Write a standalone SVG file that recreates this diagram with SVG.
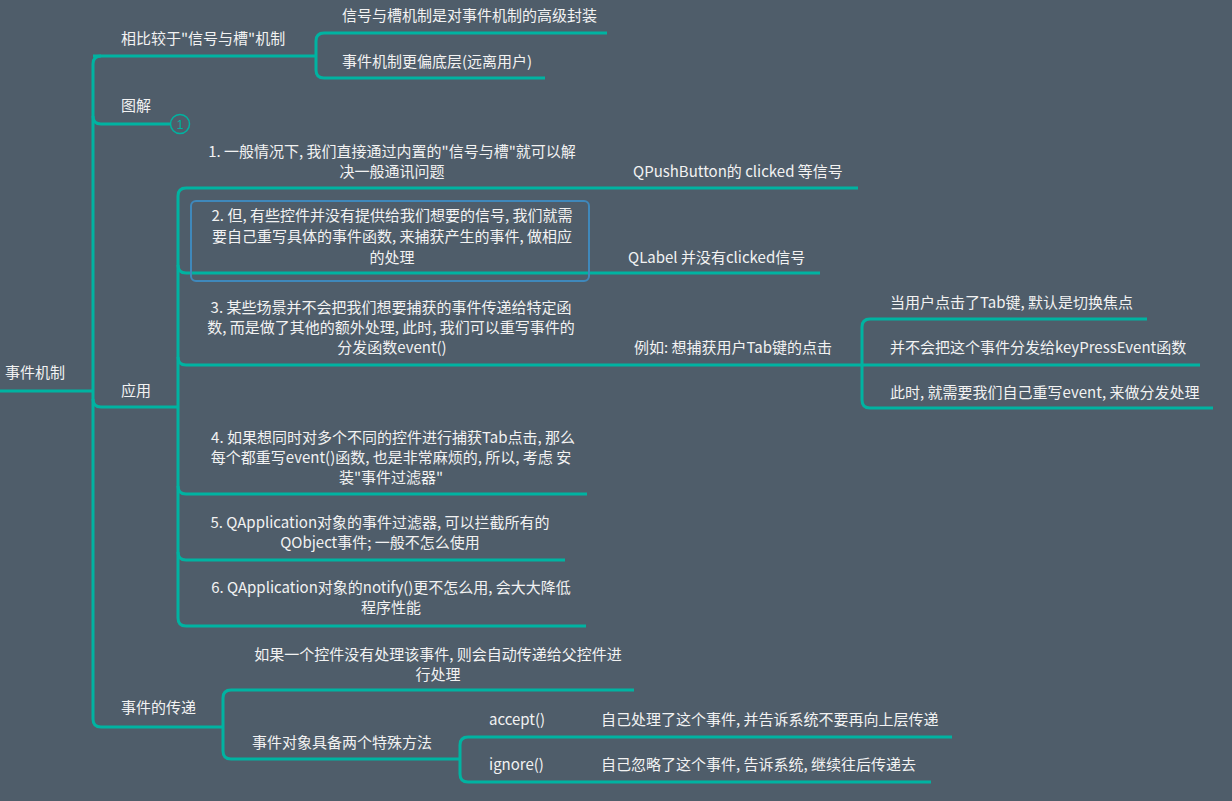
<svg xmlns="http://www.w3.org/2000/svg" width="1232" height="801" viewBox="0 0 1232 801">
<style>
.t{font-family:"Microsoft YaHei","Noto Sans CJK SC","Noto Sans",sans-serif;font-size:15px;fill:#f2f2f2}
.m{text-anchor:middle}
.c{fill:none;stroke:#00b3a1;stroke-width:3;stroke-linecap:butt}
</style>
<rect width="1232" height="801" fill="#4f5d6a"/>
<g id="connectors">
<path class="c" d="M0 391H93"/>
<path class="c" d="M101 56Q93 56 93 64V719Q93 727 101 727H223"/>
<path class="c" d="M93 56H316"/>
<path class="c" d="M93 116Q93 124 101 124H171"/>
<path class="c" d="M93 399Q93 407 101 407H178"/>
<path class="c" d="M316 41Q316 33 324 33H607"/>
<path class="c" d="M316 41V70Q316 78 324 78H545"/>
<path class="c" d="M178 196Q178 188 186 188H858"/>
<path class="c" d="M178 196V618Q178 626 186 626H586"/>
<path class="c" d="M178 265Q178 273 186 273H820"/>
<path class="c" d="M178 357Q178 365 186 365H862"/>
<path class="c" d="M178 486Q178 494 186 494H587"/>
<path class="c" d="M178 552Q178 560 186 560H565"/>
<path class="c" d="M870 319Q862 319 862 327V400Q862 408 870 408H1213"/>
<path class="c" d="M870 319H1147"/>
<path class="c" d="M862 365H1200"/>
<path class="c" d="M231 690Q223 690 223 698V751Q223 759 231 759H460"/>
<path class="c" d="M231 690H634"/>
<path class="c" d="M468 737Q460 737 460 745V774Q460 782 468 782H931"/>
<path class="c" d="M468 737H952"/>
</g>
<g id="root"><text class="t" x="5" y="378">事件机制</text></g>
<g id="n-compare"><text class="t" x="121" y="44">相比较于"信号与槽"机制</text></g>
<g id="n-compare-1"><text class="t" x="342" y="21">信号与槽机制是对事件机制的高级封装</text></g>
<g id="n-compare-2"><text class="t" x="342" y="67">事件机制更偏底层(远离用户)</text></g>
<g id="n-diagram"><text class="t" x="121" y="111">图解</text>
<circle cx="180" cy="124" r="9.5" fill="#4f5d6a" stroke="#00b3a1" stroke-width="1.5"/>
<text x="180" y="128.5" text-anchor="middle" style="font-family:'Liberation Sans',sans-serif;font-size:12px;fill:#00b3a1">1</text></g>
<g id="n-apply"><text class="t" x="121" y="396">应用</text></g>
<g id="n-a1"><text class="t m" x="392" y="157">1. 一般情况下, 我们直接通过内置的"信号与槽"就可以解</text><text class="t m" x="392" y="177">决一般通讯问题</text></g>
<g id="n-a1c"><text class="t" x="633" y="177">QPushButton的 clicked 等信号</text></g>
<g id="n-a2"><rect x="191" y="201" width="398" height="80" rx="5" fill="none" stroke="#3f88bb" stroke-width="2"/>
<text class="t m" x="392" y="221">2. 但, 有些控件并没有提供给我们想要的信号, 我们就需</text><text class="t m" x="392" y="242">要自己重写具体的事件函数, 来捕获产生的事件, 做相应</text><text class="t m" x="392" y="263">的处理</text></g>
<g id="n-a2c"><text class="t" x="628" y="263">QLabel 并没有clicked信号</text></g>
<g id="n-a3"><text class="t m" x="391" y="313">3. 某些场景并不会把我们想要捕获的事件传递给特定函</text><text class="t m" x="391" y="333">数, 而是做了其他的额外处理, 此时, 我们可以重写事件的</text><text class="t m" x="392" y="353">分发函数event()</text></g>
<g id="n-a3c"><text class="t" x="634" y="353">例如: 想捕获用户Tab键的点击</text></g>
<g id="n-a3c1"><text class="t" x="890" y="308">当用户点击了Tab键, 默认是切换焦点</text></g>
<g id="n-a3c2"><text class="t" x="890" y="353">并不会把这个事件分发给keyPressEvent函数</text></g>
<g id="n-a3c3"><text class="t" x="890" y="398">此时, 就需要我们自己重写event, 来做分发处理</text></g>
<g id="n-a4"><text class="t m" x="393" y="443">4. 如果想同时对多个不同的控件进行捕获Tab点击, 那么</text><text class="t m" x="391" y="463">每个都重写event()函数, 也是非常麻烦的, 所以, 考虑 安</text><text class="t m" x="391" y="483">装"事件过滤器"</text></g>
<g id="n-a5"><text class="t m" x="380" y="528">5. QApplication对象的事件过滤器, 可以拦截所有的</text><text class="t m" x="380" y="548">QObject事件; 一般不怎么使用</text></g>
<g id="n-a6"><text class="t m" x="391" y="593">6. QApplication对象的notify()更不怎么用, 会大大降低</text><text class="t m" x="391" y="613">程序性能</text></g>
<g id="n-pass"><text class="t" x="121" y="713">事件的传递</text></g>
<g id="n-p1"><text class="t m" x="438" y="660">如果一个控件没有处理该事件, 则会自动传递给父控件进</text><text class="t m" x="438" y="680">行处理</text></g>
<g id="n-p2"><text class="t" x="252" y="748">事件对象具备两个特殊方法</text></g>
<g id="n-accept"><text class="t" x="489" y="725">accept()</text></g>
<g id="n-accept-c"><text class="t" x="601" y="725">自己处理了这个事件, 并告诉系统不要再向上层传递</text></g>
<g id="n-ignore"><text class="t" x="489" y="770">ignore()</text></g>
<g id="n-ignore-c"><text class="t" x="601" y="770">自己忽略了这个事件, 告诉系统, 继续往后传递去</text></g>
</svg>
